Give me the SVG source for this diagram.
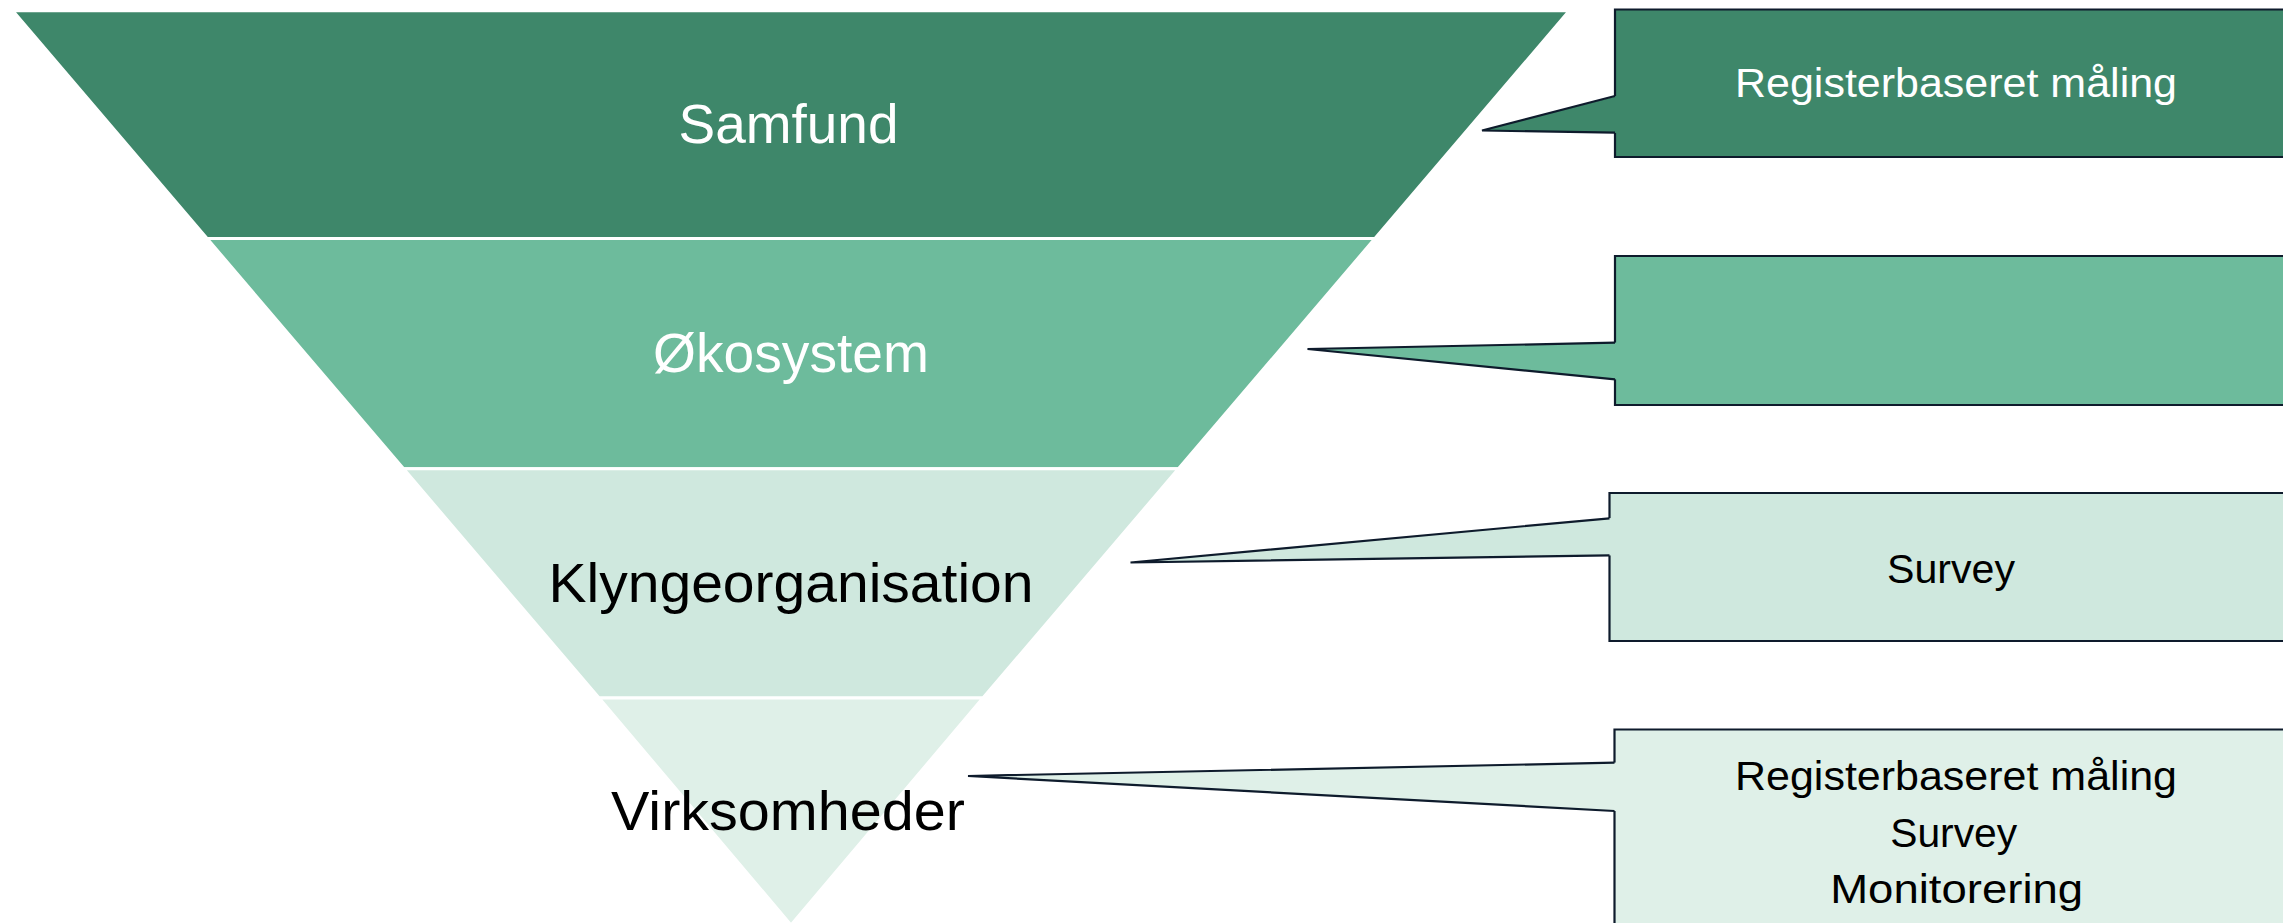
<svg xmlns="http://www.w3.org/2000/svg" width="2283" height="923" viewBox="0 0 2283 923">
<style>
.band{stroke:#ffffff;stroke-width:3;stroke-linejoin:miter}
.c1{fill:#3E876A}.c2{fill:#6DBB9C}.c3{fill:#CFE8DE}.c4{fill:#DFF0E8}
.edge{fill:none;stroke:#0E1B2C;stroke-width:2.2;stroke-linejoin:miter}
.big{font-family:"Liberation Sans",Arial,sans-serif;font-size:56px;text-anchor:middle}
.small{font-family:"Liberation Sans",Arial,sans-serif;font-size:40px;text-anchor:middle}
.w{fill:#ffffff}.k{fill:#000000}
</style>
<rect width="2283" height="923" fill="#ffffff"/>
<g id="level-samfund">
<polygon class="band c1" points="12.8,10.7 1569.2,10.7 1374.9,238.5 207.1,238.5"/>
<text class="big w" x="788.5" y="142.7" textLength="220" lengthAdjust="spacingAndGlyphs">Samfund</text>
</g>
<g id="level-okosystem">
<polygon class="band c2" points="207.1,238.5 1374.9,238.5 1178.4,468.8 403.6,468.8"/>
<text class="big w" x="791" y="371.5" textLength="276" lengthAdjust="spacingAndGlyphs">Økosystem</text>
</g>
<g id="level-klyngeorganisation">
<polygon class="band c3" points="403.6,468.8 1178.4,468.8 982.9,698 599.1,698"/>
<text class="big k" x="791" y="601.7" textLength="485" lengthAdjust="spacingAndGlyphs">Klyngeorganisation</text>
</g>
<g id="level-virksomheder">
<polygon class="band c4" points="599.1,698 982.9,698 791,925"/>
<text class="big k" x="788" y="830" textLength="354" lengthAdjust="spacingAndGlyphs">Virksomheder</text>
</g>
<g id="callout-1">
<rect class="c1" x="1615" y="9.5" width="682" height="147.5"/>
<path class="edge" d="M1615,96 V9.5 H2297 V157 H1615 V132.7"/>
<text class="small w" x="1956" y="96.7" textLength="442" lengthAdjust="spacingAndGlyphs">Registerbaseret måling</text>
</g>
<g id="callout-2">
<rect class="c2" x="1615" y="256" width="682" height="149"/>
<path class="edge" d="M1615,342.7 V256 H2297 V405 H1615 V379.3"/>
</g>
<g id="callout-3">
<rect class="c3" x="1609.5" y="493" width="682" height="148"/>
<path class="edge" d="M1609.5,518.3 V493 H2291.5 V641 H1609.5 V555.3"/>
<text class="small k" x="1951" y="582.7" textLength="128" lengthAdjust="spacingAndGlyphs">Survey</text>
</g>
<g id="callout-4">
<rect class="c4" x="1614.5" y="729.5" width="682" height="200"/>
<path class="edge" d="M1614.5,762.7 V729.5 H2296.5 V930 M1614.5,930 V811"/>
<text class="small k" x="1956" y="790" textLength="442" lengthAdjust="spacingAndGlyphs">Registerbaseret måling</text>
<text class="small k" x="1953.7" y="846.7" textLength="127" lengthAdjust="spacingAndGlyphs">Survey</text>
<text class="small k" x="1956.7" y="902.7" textLength="253" lengthAdjust="spacingAndGlyphs">Monitorering</text>
</g>
<g id="connectors">
<polygon class="c1" points="1617,96 1482,130.5 1617,132.7"/>
<polyline class="edge" points="1615,96 1482,130.5 1615,132.7"/>
<polygon class="c2" points="1617,342.7 1307.5,349 1617,379.3"/>
<polyline class="edge" points="1615,342.7 1307.5,349 1615,379.3"/>
<polygon class="c3" points="1611.5,518.3 1130.5,562.5 1611.5,555.3"/>
<polyline class="edge" points="1609.5,518.3 1130.5,562.5 1609.5,555.3"/>
<polygon class="c4" points="1616.5,762.7 968,776 1616.5,811"/>
<polyline class="edge" points="1614.5,762.7 968,776 1614.5,811"/>
</g>
</svg>
